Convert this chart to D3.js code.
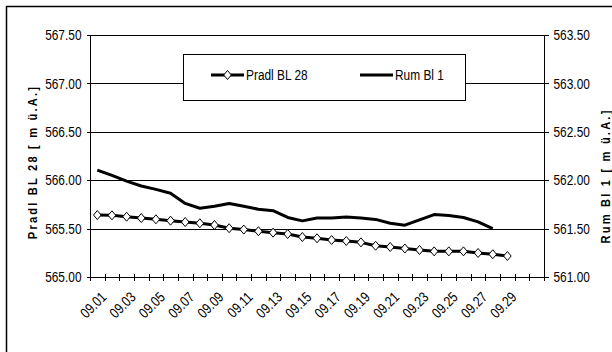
<!DOCTYPE html>
<meta charset="utf-8">
<script src="https://d3js.org/d3.v7.min.js"></script>
<style>
body { margin: 0; background: #fff; }
svg { display: block; }
text { font-family: "Liberation Sans", Arial, sans-serif; fill: #000; }
.axis path, .axis line { stroke: #000; shape-rendering: crispEdges; }
.axis text { font-size: 14.5px; }
.title { font-size: 13.5px; font-weight: bold; letter-spacing: 2.7px; }
</style>
<svg width="612" height="352"></svg>
<script>
const days = ['09.01','09.02','09.03','09.04','09.05','09.06','09.07','09.08','09.09','09.10',
  '09.11','09.12','09.13','09.14','09.15','09.16','09.17','09.18','09.19','09.20',
  '09.21','09.22','09.23','09.24','09.25','09.26','09.27','09.28','09.29','09.30',''];

// Pradl BL 28 (left axis)
const pradl = [565.64, 565.637, 565.623, 565.609, 565.596, 565.582, 565.568, 565.555, 565.537, 565.504,
  565.49, 565.473, 565.458, 565.444, 565.413, 565.40, 565.382, 565.372, 565.358, 565.323,
  565.31, 565.294, 565.279, 565.265, 565.265, 565.265, 565.248, 565.235, 565.217];

// Rum Bl 1 (right axis)
const rum = [562.105, 562.05, 561.99, 561.94, 561.905, 561.865, 561.76, 561.71, 561.73, 561.76,
  561.73, 561.70, 561.685, 561.615, 561.58, 561.61, 561.61, 561.62, 561.61, 561.595,
  561.555, 561.535, 561.59, 561.645, 561.635, 561.615, 561.57, 561.50];

const leftTicks = [565.0, 565.5, 566.0, 566.5, 567.0, 567.5];
const rightTicks = [561.0, 561.5, 562.0, 562.5, 563.0, 563.5];
const xLabels = days.filter((d, i) => i % 2 === 0 && d !== '');

const narrow = 'scale(0.82,1)';   // no narrow face installed, squeeze it instead

const svg = d3.select('svg');
const plotL = 90, plotR = 544, plotT = 35, plotB = 277;

// outer chart border (runs off the right / bottom edge)
svg.append('rect')
  .attr('x', 6.5).attr('y', 6.5).attr('width', 640).attr('height', 400)
  .attr('fill', 'none').attr('stroke', '#000').attr('stroke-width', 1.5);

const x = d3.scaleBand().domain(days).range([plotL, plotR]);
const yL = d3.scaleLinear().domain([565, 567.5]).range([plotB, plotT]);
const yR = d3.scaleLinear().domain([561, 563.5]).range([plotB, plotT]);

// gridlines
svg.append('g').selectAll('line')
  .data(leftTicks.slice(1))
  .join('line')
  .attr('x1', plotL).attr('x2', plotR)
  .attr('y1', d => Math.round(yL(d)) + 0.5).attr('y2', d => Math.round(yL(d)) + 0.5)
  .attr('stroke', '#000').attr('stroke-width', 1);

// left axis
svg.append('g')
  .attr('class', 'axis')
  .attr('transform', `translate(${plotL + 0.5},0)`)
  .call(d3.axisLeft(yL).tickValues(leftTicks).tickSize(4).tickPadding(5).tickFormat(d3.format('.2f')))
  .call(g => g.select('.domain').attr('d', `M0,${plotT}V${plotB}`))
  .call(g => g.selectAll('text').attr('transform', `translate(-9,0) ${narrow}`).attr('x', 0));

// right axis
svg.append('g')
  .attr('class', 'axis')
  .attr('transform', `translate(${plotR + 0.5},0)`)
  .call(d3.axisRight(yR).tickValues(rightTicks).tickSize(4).tickPadding(5).tickFormat(d3.format('.2f')))
  .call(g => g.select('.domain').attr('d', `M0,${plotT}V${plotB}`))
  .call(g => g.selectAll('text').attr('transform', `translate(9,0) ${narrow}`).attr('x', 0));

// bottom axis with cross ticks at category boundaries
const gx = svg.append('g').attr('class', 'axis');
gx.append('line')
  .attr('x1', plotL).attr('x2', plotR)
  .attr('y1', plotB + 0.5).attr('y2', plotB + 0.5);
gx.selectAll('.tk')
  .data(d3.range(days.length + 1))
  .join('line')
  .attr('class', 'tk')
  .attr('x1', i => Math.round(plotL + i * x.step()) + 0.5)
  .attr('x2', i => Math.round(plotL + i * x.step()) + 0.5)
  .attr('y1', plotB - 3).attr('y2', plotB + 4);
gx.selectAll('text')
  .data(xLabels)
  .join('text')
  .attr('text-anchor', 'end')
  .attr('transform', d => `translate(${x(d) + x.bandwidth() / 2 + 10},${plotB + 21}) rotate(-45) ${narrow}`)
  .text(d => d);

// lines
const lineL = d3.line().x((d, i) => x(days[i]) + x.bandwidth() / 2).y(d => yL(d));
const lineR = d3.line().x((d, i) => x(days[i]) + x.bandwidth() / 2).y(d => yR(d));

svg.append('path').datum(rum)
  .attr('d', lineR).attr('fill', 'none').attr('stroke', '#000')
  .attr('stroke-width', 3).attr('stroke-linejoin', 'round');

svg.append('path').datum(pradl)
  .attr('d', lineL).attr('fill', 'none').attr('stroke', '#000')
  .attr('stroke-width', 3).attr('stroke-linejoin', 'round');

const diamond = 'M0,-4.5L3.8,0L0,4.5L-3.8,0Z';
svg.append('g').selectAll('path')
  .data(pradl)
  .join('path')
  .attr('transform', (d, i) => `translate(${x(days[i]) + x.bandwidth() / 2},${yL(d)})`)
  .attr('d', diamond).attr('fill', '#fff').attr('stroke', '#000').attr('stroke-width', 1);

// axis titles
svg.append('text')
  .attr('class', 'title')
  .attr('text-anchor', 'middle')
  .attr('transform', `translate(37,${(plotT + plotB) / 2 + 6}) rotate(-90) ${narrow}`)
  .text('Pradl BL 28 [ m ü.A.]');

svg.append('text')
  .attr('class', 'title')
  .attr('text-anchor', 'middle')
  .attr('transform', `translate(610,${(plotT + plotB) / 2 + 20}) rotate(-90) ${narrow}`)
  .text('Rum Bl 1 [ m ü.A.]');

// legend
const lg = svg.append('g');
lg.append('rect')
  .attr('x', 183.5).attr('y', 54.5).attr('width', 282).attr('height', 46)
  .attr('fill', '#fff').attr('stroke', '#000').attr('stroke-width', 1);
lg.append('line').attr('x1', 211).attr('x2', 244).attr('y1', 75).attr('y2', 75)
  .attr('stroke', '#000').attr('stroke-width', 3);
lg.append('path').attr('transform', 'translate(227.5,75)').attr('d', diamond)
  .attr('fill', '#fff').attr('stroke', '#000');
lg.append('text').attr('transform', `translate(246,80) ${narrow}`).style('font-size', '14.5px').text('Pradl BL 28');
lg.append('line').attr('x1', 360).attr('x2', 393).attr('y1', 75).attr('y2', 75)
  .attr('stroke', '#000').attr('stroke-width', 3);
lg.append('text').attr('transform', `translate(395,80) ${narrow}`).style('font-size', '14.5px').text('Rum Bl 1');
</script>
